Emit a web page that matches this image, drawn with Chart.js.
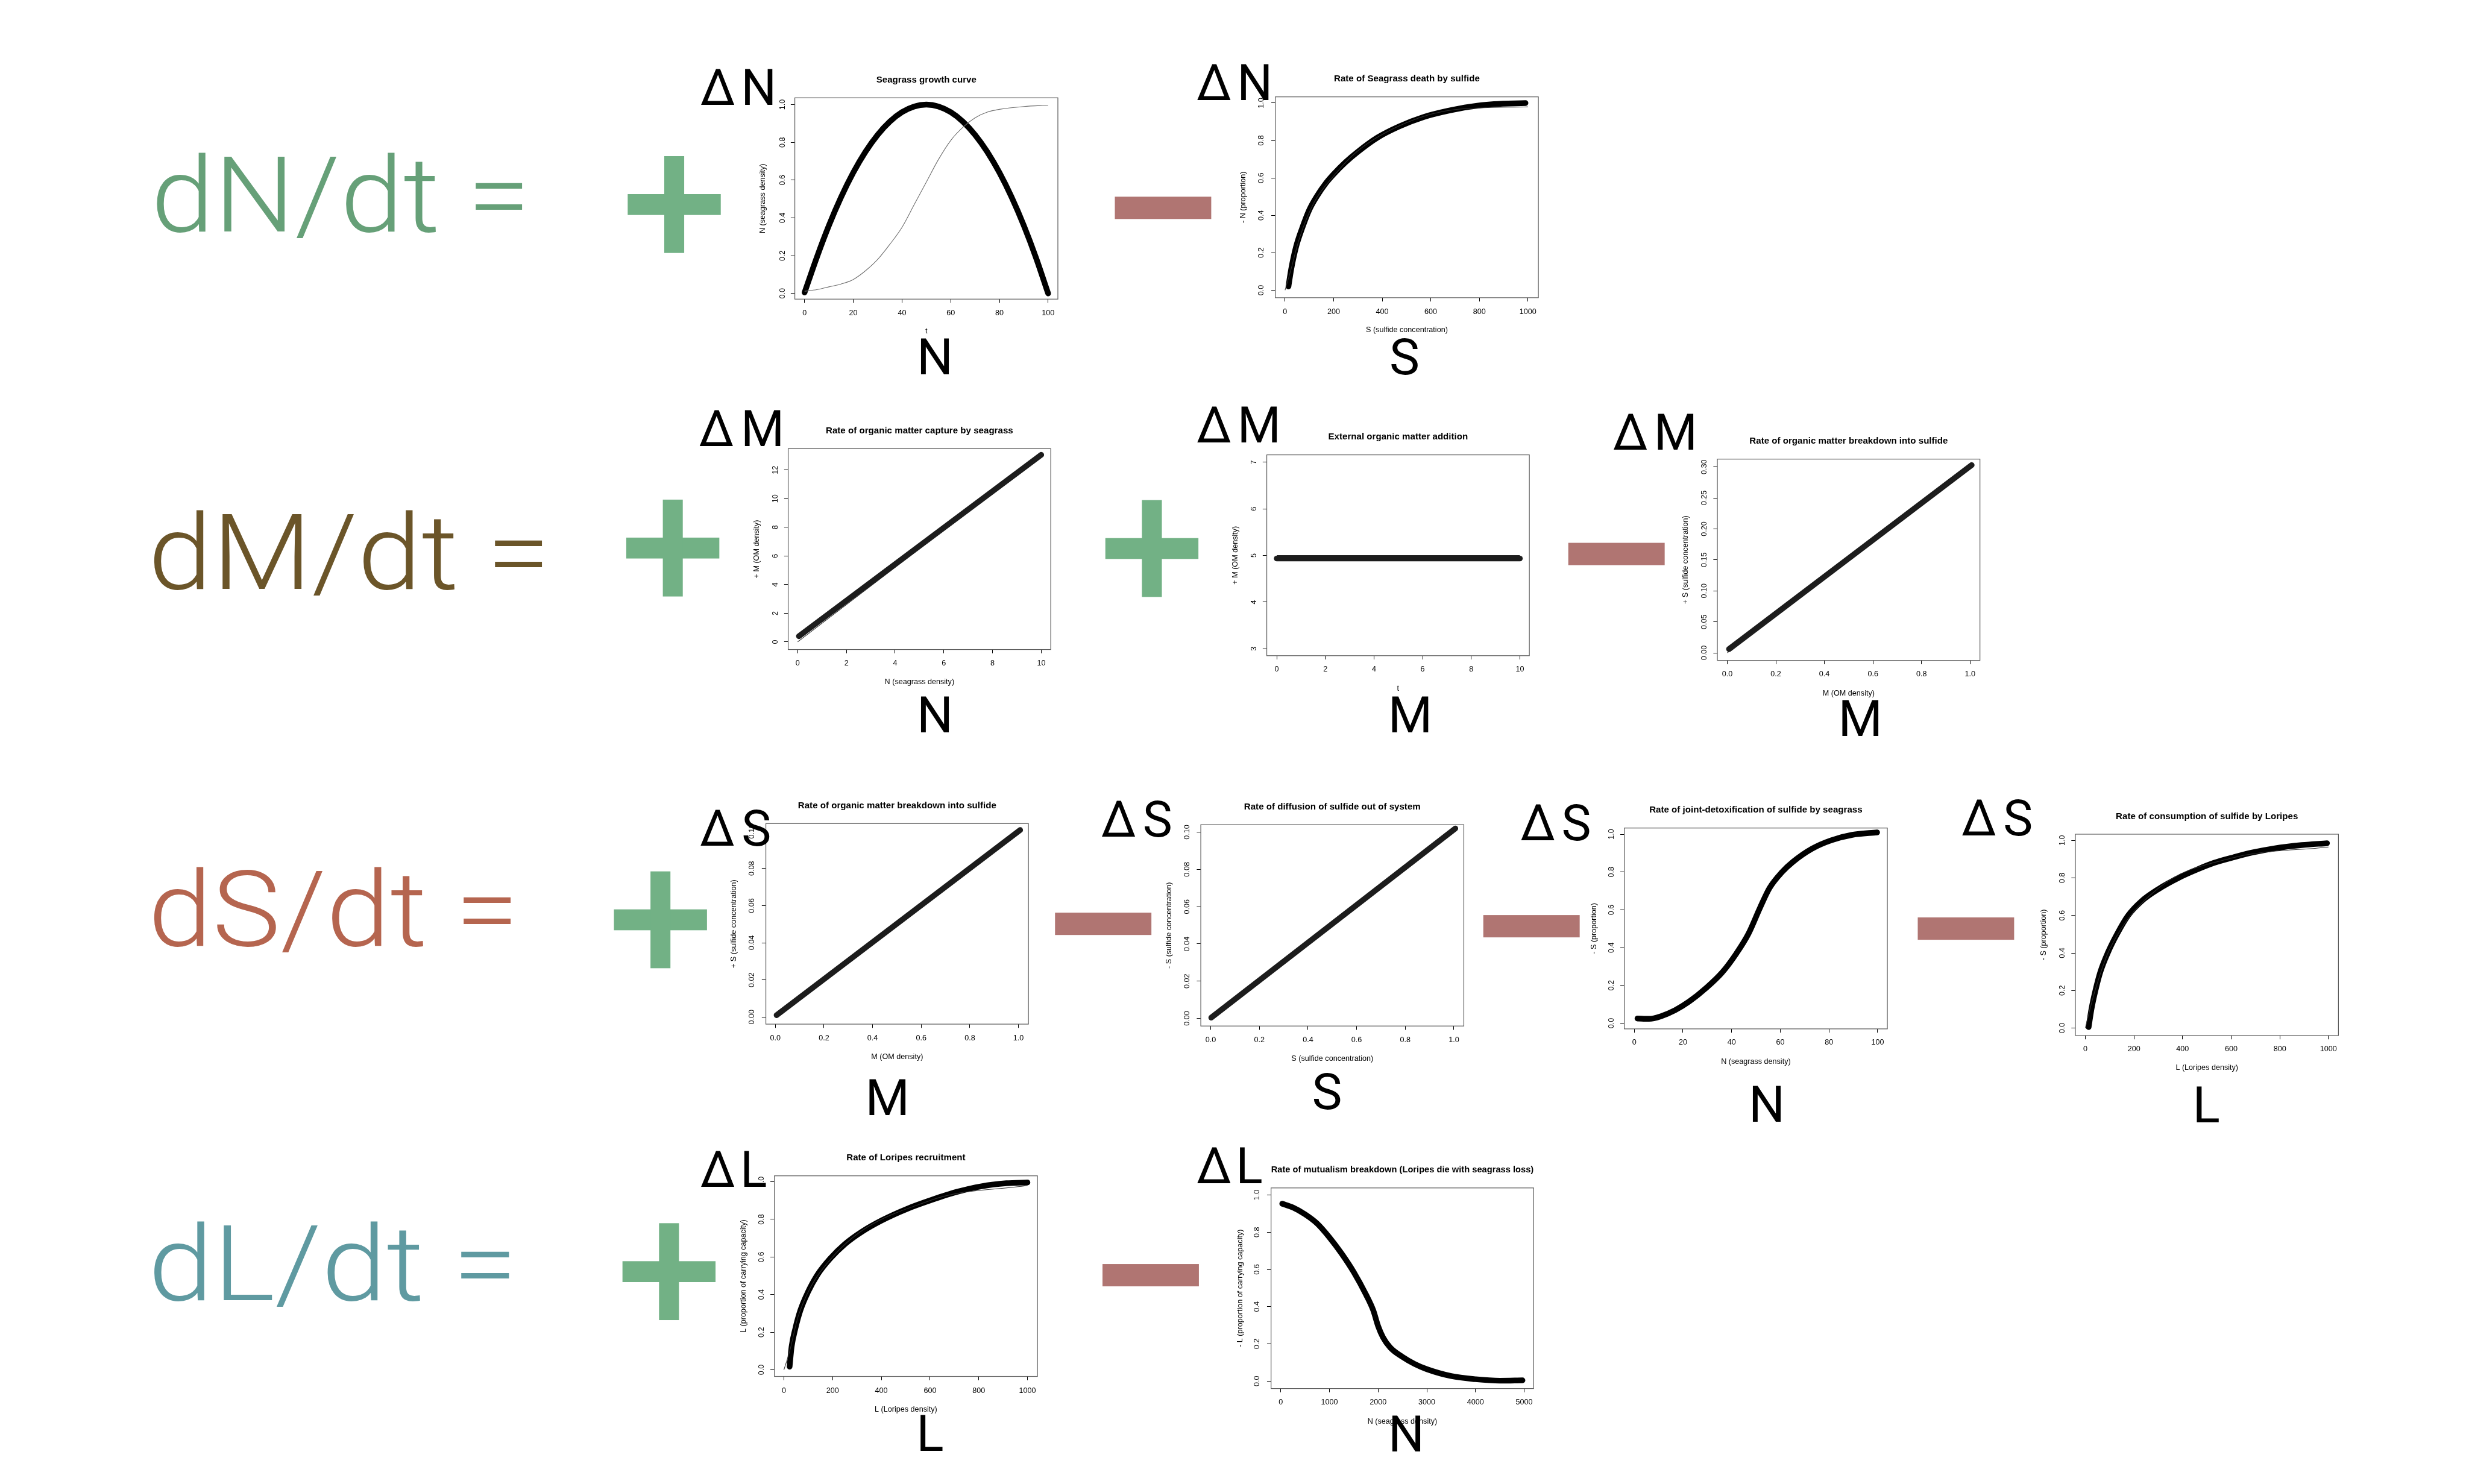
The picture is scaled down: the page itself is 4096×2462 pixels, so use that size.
<!DOCTYPE html>
<html>
<head>
<meta charset="utf-8">
<script src="https://cdn.jsdelivr.net/npm/chart.js@4.4.1/dist/chart.umd.min.js"></script>
<style>
html,body{margin:0;padding:0;background:#fff;}
#stage{position:relative;width:4096px;height:2462px;overflow:hidden;background:#fff;}
.panel{position:absolute;}
</style>
</head>
<body>
<div id="stage"></div>
<script>
// ---------------- DATA ----------------
// Panel 1: Seagrass growth curve
const p1X    = [0,5,10,15,20,25,30,35,40,45,50,55,60,65,70,75,80,85,90,95,100];
const p1Y    = [0.005,0.19,0.36,0.51,0.64,0.75,0.84,0.91,0.96,0.99,1.0,0.99,0.96,0.91,0.84,0.75,0.64,0.51,0.36,0.19,0.0];
const p1FitX = [0,5,10,15,20,25,30,35,40,45,50,55,60,65,70,75,80,90,100];
const p1FitY = [0.012,0.02,0.035,0.05,0.074,0.12,0.18,0.26,0.35,0.47,0.59,0.71,0.81,0.88,0.93,0.96,0.975,0.99,0.997];
// Panel 2: Rate of Seagrass death by sulfide
const p2X    = [14,25,45,70,100,130,170,200,250,300,380,470,570,670,760,860,990];
const p2Y    = [0.02,0.11,0.23,0.33,0.43,0.50,0.575,0.62,0.685,0.74,0.815,0.875,0.925,0.958,0.98,0.994,1.0];
const p2FitX = [0,20,60,120,200,300,500,700,1000];
const p2FitY = [0,0.09,0.28,0.47,0.61,0.745,0.895,0.965,0.98];
// Panel 3: Rate of organic matter capture by seagrass
const p3X = [0.05,10.0];   const p3Y = [0.4,13.06];
const p3FitX = [0,10];     const p3FitY = [0,13.0];
// Panel 4: External organic matter addition
const p4X = [0,10];        const p4Y = [4.935,4.935];
const p4FitX = [0,10];     const p4FitY = [5.0,5.0];
// Panel 5: Rate of organic matter breakdown into sulfide (M row)
const p5X = [0.007,1.007]; const p5Y = [0.006,0.303];
const p5FitX = [0,1];      const p5FitY = [0,0.3];
// Panel 6: Rate of organic matter breakdown into sulfide (S row)
const p6X = [0.005,1.007]; const p6Y = [0.001,0.1007];
// Panel 7: Rate of diffusion of sulfide out of system
const p7X = [0.002,1.006]; const p7Y = [0.0004,0.102];
// Panel 8: Rate of joint-detoxification of sulfide by seagrass
const p8X = [1.3,6.1,11,16.8,22.6,29.4,36.2,42,46.9,51.7,55.6,60.5,65.3,73.1,80.9,89.6,99.8];
const p8Y = [0.025,0.023,0.037,0.069,0.115,0.185,0.27,0.37,0.473,0.612,0.716,0.797,0.855,0.924,0.968,0.997,1.01];
// Panel 9: Rate of consumption of sulfide by Loripes
const p9X = [13.5,25,41.5,62,92,130,176,230,300,383,460,529,610,686,780,890,994];
const p9Y = [0.005,0.1,0.2,0.3,0.4,0.5,0.6,0.675,0.74,0.8,0.845,0.88,0.91,0.935,0.958,0.975,0.985];
const p9FitX = [0,13,40,100,300,600,1000];
const p9FitY = [0,0.07,0.2,0.42,0.745,0.905,0.965];
// Panel 10: Rate of Loripes recruitment
const p10X = [23.4,31.6,46.9,67.3,97.9,138.6,189.6,250.8,322,403.7,505.6,607.5,709.5,811.4,913.4,1000];
const p10Y = [0.017,0.123,0.219,0.315,0.411,0.507,0.591,0.669,0.736,0.796,0.856,0.904,0.946,0.976,0.992,0.996];
const p10FitX = [0,24,60,200,600,1000];
const p10FitY = [0,0.1,0.29,0.6,0.9,0.98];
// Panel 11: Rate of mutualism breakdown
const p11X = [29,250,500,750,1000,1250,1500,1750,1900,2000,2100,2250,2500,2750,3000,3500,4000,4500,4966];
const p11Y = [0.953,0.933,0.896,0.846,0.772,0.685,0.585,0.465,0.38,0.295,0.235,0.18,0.13,0.092,0.064,0.027,0.01,0.002,0.004];

// Tick values and labels
const tkProp = [0,0.2,0.4,0.6,0.8,1.0];
const tkPropLab = ['0.0','0.2','0.4','0.6','0.8','1.0'];
const tk100 = [0,20,40,60,80,100];
const tk100Lab = ['0','20','40','60','80','100'];
const tk1000 = [0,200,400,600,800,1000];
const tk1000Lab = ['0','200','400','600','800','1000'];
const tk5000 = [0,1000,2000,3000,4000,5000];
const tk5000Lab = ['0','1000','2000','3000','4000','5000'];
const tk10 = [0,2,4,6,8,10];
const tk10Lab = ['0','2','4','6','8','10'];
const tk12 = [0,2,4,6,8,10,12];
const tk12Lab = ['0','2','4','6','8','10','12'];
const tk37 = [3,4,5,6,7];
const tk37Lab = ['3','4','5','6','7'];
const tk030 = [0,0.05,0.10,0.15,0.20,0.25,0.30];
const tk030Lab = ['0.00','0.05','0.10','0.15','0.20','0.25','0.30'];
const tk010 = [0,0.02,0.04,0.06,0.08,0.10];
const tk010Lab = ['0.00','0.02','0.04','0.06','0.08','0.10'];

// ---------------- LAYOUT ----------------
const S = 4096/5200;
const stage = document.getElementById('stage');
Chart.defaults.font.family = "'Liberation Sans', Arial, Helvetica, sans-serif";
Chart.defaults.color = '#000';

const pts = (xs, ys) => xs.map((x, i) => ({x: x, y: ys[i]}));
const thick = (xs, ys, col) => ({data: pts(xs, ys), showLine: true, borderColor: col || '#000',
  borderWidth: 12*S, pointRadius: 0, cubicInterpolationMode: 'monotone', borderCapStyle: 'round',
  borderJoinStyle: 'round', fill: false, clip: false});
const thin = (xs, ys, col, w) => ({data: pts(xs, ys), showLine: true, borderColor: col,
  borderWidth: (w || 1.3)*S, pointRadius: 0, cubicInterpolationMode: 'monotone', fill: false, clip: false});

const rAxes = {
  id: 'rAxes',
  beforeDatasetsDraw(chart, args, o) {
    const a = chart.chartArea, ctx = chart.ctx;
    ctx.save();
    ctx.strokeStyle = '#5a5a5a'; ctx.lineWidth = 1.2;
    ctx.strokeRect(a.left, a.top, a.right - a.left, a.bottom - a.top);
    ctx.restore();
  },
  afterDraw(chart, args, o) {
    const ctx = chart.ctx, y = chart.scales.y;
    ctx.save();
    ctx.fillStyle = '#000';
    ctx.font = o.font + "px 'Liberation Sans', Arial, sans-serif";
    ctx.textAlign = 'center'; ctx.textBaseline = 'middle';
    o.yTicks.forEach((v, i) => {
      const py = y.getPixelForValue(v);
      ctx.save(); ctx.translate(o.labelX, py); ctx.rotate(-Math.PI/2);
      ctx.fillText(o.yLabels[i], 0, 0); ctx.restore();
    });
    ctx.restore();
  }
};

function makePanel(p) {
  const F = 16*S, FT = 19.2*S, TLx = 8*S, TLy = 8.5*S;
  const [L, T, R, B] = p.box;
  const cl = p.ylabX - 16, cr = R + 16, ct = p.titleY - 18, cb = p.xlabY + 14;
  const Lp = Math.round(cl*S), Tp = Math.round(ct*S);
  const Wp = Math.round(cr*S) - Lp, Hp = Math.round(cb*S) - Tp;
  const aL = L*S - Lp, aT = T*S - Tp, aR = R*S - Lp, aB = B*S - Tp;
  const div = document.createElement('div');
  div.className = 'panel';
  div.style.left = Lp + 'px'; div.style.top = Tp + 'px';
  div.style.width = Wp + 'px'; div.style.height = Hp + 'px';
  const cv = document.createElement('canvas');
  cv.width = Wp; cv.height = Hp; cv.style.width = Wp + 'px'; cv.style.height = Hp + 'px';
  div.appendChild(cv); stage.appendChild(div);
  const tY = p.titleY*S - Tp;
  new Chart(cv, {
    type: 'scatter',
    data: {datasets: p.datasets},
    options: {
      responsive: false, animation: false, events: [],
      layout: {padding: {left: 0, top: 0, bottom: 0, right: Wp - aR}},
      plugins: {
        legend: {display: false}, tooltip: {enabled: false},
        title: {display: true, text: p.title, fullSize: false, color: '#000',
          font: {size: FT, weight: 'bold', lineHeight: 1.2},
          padding: {top: tY - 0.6*FT, bottom: aT - tY - 0.6*FT}},
        rAxes: {yTicks: p.yTicks, yLabels: p.yTickLabels, labelX: p.yTickX*S - Lp, font: F}
      },
      scales: {
        x: {type: 'linear', position: 'bottom', min: p.xlim[0], max: p.xlim[1],
          afterBuildTicks: sc => { sc.ticks = p.xTicks.map(v => ({value: v})); },
          afterFit: sc => { sc.height = Hp - aB; sc.paddingLeft = 0; sc.paddingRight = 0; },
          ticks: {autoSkip: false, maxRotation: 0, minRotation: 0, color: '#000',
            padding: (p.xTickY*S - Tp - aB) - TLx - 0.6*F, font: {size: F, lineHeight: 1.2},
            callback: (v, i) => p.xTickLabels[i]},
          grid: {display: true, drawOnChartArea: false, drawTicks: true, tickLength: TLx, color: '#000', lineWidth: 1},
          border: {display: false},
          title: {display: true, text: p.xlab, color: '#000', font: {size: F, lineHeight: 1.2},
            padding: {top: 0, bottom: Hp - (p.xlabY*S - Tp) - 0.6*F}}},
        y: {type: 'linear', position: 'left', min: p.ylim[0], max: p.ylim[1],
          afterBuildTicks: sc => { sc.ticks = p.yTicks.map(v => ({value: v})); },
          afterFit: sc => { sc.width = aL; sc.paddingTop = 0; sc.paddingBottom = 0; },
          ticks: {display: false, callback: (v, i) => p.yTickLabels[i]},
          grid: {display: true, drawOnChartArea: false, drawTicks: true, tickLength: TLy, color: '#000', lineWidth: 1},
          border: {display: false},
          title: {display: true, text: p.ylab, color: '#000', font: {size: F, lineHeight: 1.2},
            padding: {top: p.ylabX*S - Lp - 0.6*F, bottom: 0}}}
      }
    },
    plugins: [rAxes]
  });
}

const DG = '#1c1c1c';
const panels = [
  {box: [1674,206,2228,630], xlim: [-4,104], ylim: [-0.03,1.036], xTickY: 659, xlabY: 698, yTickX: 1648, ylabX: 1607, titleY: 169,
   title: 'Seagrass growth curve', xlab: 't', ylab: 'N (seagrass density)',
   xTicks: tk100, xTickLabels: tk100Lab, yTicks: tkProp, yTickLabels: tkPropLab,
   datasets: [thin(p1FitX, p1FitY, '#6f6f6f', 1.4), thick(p1X, p1Y)]},
  {box: [2686,204,3240,627], xlim: [-40,1043], ylim: [-0.04,1.033], xTickY: 657, xlabY: 695, yTickX: 2657, ylabX: 2619, titleY: 166,
   title: 'Rate of Seagrass death by sulfide', xlab: 'S (sulfide concentration)', ylab: '- N (proportion)',
   xTicks: tk1000, xTickLabels: tk1000Lab, yTicks: tkProp, yTickLabels: tkPropLab,
   datasets: [thin(p2FitX, p2FitY, '#333'), thick(p2X, p2Y)]},
  {box: [1660,945,2213,1368], xlim: [-0.39,10.39], ylim: [-0.53,13.49], xTickY: 1397, xlabY: 1436, yTickX: 1633, ylabX: 1594, titleY: 907,
   title: 'Rate of organic matter capture by seagrass', xlab: 'N (seagrass density)', ylab: '+ M (OM density)',
   xTicks: tk10, xTickLabels: tk10Lab, yTicks: tk12, yTickLabels: tk12Lab,
   datasets: [thin(p3FitX, p3FitY, '#222'), thick(p3X, p3Y, DG)]},
  {box: [2668,958,3221,1381], xlim: [-0.41,10.39], ylim: [2.85,7.16], xTickY: 1410, xlabY: 1450, yTickX: 2641, ylabX: 2602, titleY: 920,
   title: 'External organic matter addition', xlab: 't', ylab: '+ M (OM density)',
   xTicks: tk10, xTickLabels: tk10Lab, yTicks: tk37, yTickLabels: tk37Lab,
   datasets: [thin(p4FitX, p4FitY, '#222'), thick(p4X, p4Y, DG)]},
  {box: [3617,967,4170,1391], xlim: [-0.041,1.041], ylim: [-0.0123,0.3126], xTickY: 1420, xlabY: 1460, yTickX: 3589, ylabX: 3550, titleY: 929.5,
   title: 'Rate of organic matter breakdown into sulfide', xlab: 'M (OM density)', ylab: '+ S (sulfide concentration)',
   xTicks: tkProp, xTickLabels: tkPropLab, yTicks: tk030, yTickLabels: tk030Lab,
   datasets: [thin(p5FitX, p5FitY, '#222'), thick(p5X, p5Y, DG)]},
  {box: [1613,1734.5,2166,2157], xlim: [-0.039,1.041], ylim: [-0.0038,0.1042], xTickY: 2187, xlabY: 2226, yTickX: 1584, ylabX: 1546, titleY: 1697,
   title: 'Rate of organic matter breakdown into sulfide', xlab: 'M (OM density)', ylab: '+ S (sulfide concentration)',
   xTicks: tkProp, xTickLabels: tkPropLab, yTicks: tk010, yTickLabels: tk010Lab,
   datasets: [thick(p6X, p6Y, DG)]},
  {box: [2529,1737,3083,2161], xlim: [-0.041,1.041], ylim: [-0.0041,0.104], xTickY: 2190, xlabY: 2230, yTickX: 2500, ylabX: 2462, titleY: 1700,
   title: 'Rate of diffusion of sulfide out of system', xlab: 'S (sulfide concentration)', ylab: '- S (sulfide concentration)',
   xTicks: tkProp, xTickLabels: tkPropLab, yTicks: tk010, yTickLabels: tk010Lab,
   datasets: [thick(p7X, p7Y, DG)]},
  {box: [3421,1744,3975,2167], xlim: [-4.1,104], ylim: [-0.03,1.033], xTickY: 2196, xlabY: 2236, yTickX: 3394, ylabX: 3357, titleY: 1706,
   title: 'Rate of joint-detoxification of sulfide by seagrass', xlab: 'N (seagrass density)', ylab: '- S (proportion)',
   xTicks: tk100, xTickLabels: tk100Lab, yTicks: tkProp, yTickLabels: tkPropLab,
   datasets: [thick(p8X, p8Y)]},
  {box: [4371,1757,4925,2181], xlim: [-41,1041], ylim: [-0.04,1.033], xTickY: 2210, xlabY: 2249, yTickX: 4344, ylabX: 4304, titleY: 1720,
   title: 'Rate of consumption of sulfide by Loripes', xlab: 'L (Loripes density)', ylab: '- S (proportion)',
   xTicks: tk1000, xTickLabels: tk1000Lab, yTicks: tkProp, yTickLabels: tkPropLab,
   datasets: [thin(p9FitX, p9FitY, '#333'), thick(p9X, p9Y)]},
  {box: [1631,2476.5,2185,2899], xlim: [-39,1041], ylim: [-0.035,1.0316], xTickY: 2930, xlabY: 2969, yTickX: 1604, ylabX: 1566, titleY: 2438,
   title: 'Rate of Loripes recruitment', xlab: 'L (Loripes density)', ylab: 'L (proportion of carrying capacity)',
   xTicks: tk1000, xTickLabels: tk1000Lab, yTicks: tkProp, yTickLabels: tkPropLab,
   datasets: [thin(p10FitX, p10FitY, '#333'), thick(p10X, p10Y)]},
  {box: [2677,2502,3230,2924.5], xlim: [-200,5195], ylim: [-0.04,1.038], xTickY: 2954, xlabY: 2994, yTickX: 2648, ylabX: 2612, titleY: 2464,
   title: 'Rate of mutualism breakdown (Loripes die with seagrass loss)', xlab: 'N (seagrass density)', ylab: '- L (proportion of carrying capacity)',
   xTicks: tk5000, xTickLabels: tk5000Lab, yTicks: tkProp, yTickLabels: tkPropLab,
   datasets: [thick(p11X, p11Y)]}
];
panels.forEach(makePanel);

// ---------------- DECORATION (equation text, plus / minus signs) ----------------
const NS = 'http://www.w3.org/2000/svg';
const svg = document.createElementNS(NS, 'svg');
svg.setAttribute('viewBox', '0 0 5200 3125');
svg.setAttribute('width', '4096'); svg.setAttribute('height', '2462');
svg.style.cssText = 'position:absolute;left:0;top:0;pointer-events:none;';
stage.appendChild(svg);
const FAM = "Roboto, 'Open Sans', Lato, 'Liberation Sans', sans-serif";
function txt(str, x, y, size, color, anchor, weight, len) {
  const t = document.createElementNS(NS, 'text');
  t.setAttribute('x', x); t.setAttribute('y', y);
  t.setAttribute('font-size', size); t.setAttribute('fill', color);
  t.setAttribute('font-family', FAM); t.setAttribute('font-weight', weight || '400');
  t.setAttribute('text-anchor', anchor || 'middle');
  if (len) { t.setAttribute('textLength', len); t.setAttribute('lengthAdjust', 'spacingAndGlyphs'); }
  t.textContent = str; svg.appendChild(t);
}
function box(x, y, w, h, color) {
  const r = document.createElementNS(NS, 'rect');
  r.setAttribute('x', x); r.setAttribute('y', y); r.setAttribute('width', w); r.setAttribute('height', h);
  r.setAttribute('fill', color); svg.appendChild(r);
}
const PLUS = '#72b185', MINUS = '#b07572';
function plus(cx, cy) { box(cx - 98, cy - 22, 196, 44, PLUS); box(cx - 21, cy - 102, 42, 204, PLUS); }
function minus(x, y) { box(x, y, 203, 47, MINUS); }

// row labels
txt('dN/dt =', 318, 487, 222, '#66a078', 'start', '300', 799);
txt('dM/dt =', 312, 1240, 222, '#6b5529', 'start', '300', 847);
txt('dS/dt =', 312, 1992, 222, '#b5654f', 'start', '300', 781);
txt('dL/dt =', 312, 2738, 222, '#5f9aa1', 'start', '300', 778);

plus(1420, 430.5);
plus(1417, 1154); plus(2426, 1155);
plus(1391, 1937);
plus(1409, 2678);
minus(2348, 414);
minus(3303, 1143);
minus(2222, 1922); minus(3124, 1927); minus(4039, 1932);
minus(2322, 2662);

const DS = 105, LS = 107, K = '#000';
// Delta labels
txt('\u0394', 1512, 220, DS, K); txt('N', 1598, 220, DS, K);
txt('\u0394', 2557, 211, DS, K); txt('N', 2643, 211, DS, K);
txt('\u0394', 1509, 939, DS, K); txt('M', 1606, 939, DS, K);
txt('\u0394', 2557, 932, DS, K); txt('M', 2652, 932, DS, K);
txt('\u0394', 3434, 947, DS, K); txt('M', 3529, 947, DS, K);
txt('\u0394', 1511, 1781, DS, K); txt('S', 1593, 1781, DS, K);
txt('\u0394', 2356, 1762, DS, K); txt('S', 2438, 1762, DS, K);
txt('\u0394', 3239, 1769, DS, K); txt('S', 3320, 1769, DS, K);
txt('\u0394', 4168, 1759, DS, K); txt('S', 4250, 1759, DS, K);
txt('\u0394', 1512, 2500, DS, K); txt('L', 1559, 2500, DS, K, 'start');
txt('\u0394', 2557, 2492, DS, K); txt('L', 2603, 2492, DS, K, 'start');
// variable letters under panels
txt('N', 1969, 788, LS, K);
txt('S', 2958, 788, LS, K);
txt('N', 1969, 1542, LS, K);
txt('M', 2970, 1542, LS, K);
txt('M', 3918, 1550, LS, K);
txt('M', 1869, 2348, LS, K);
txt('S', 2795, 2336, LS, K);
txt('N', 3721, 2362, LS, K);
txt('L', 4618, 2364, LS, K, 'start');
txt('L', 1930, 3056, LS, K, 'start');
txt('N', 2962, 3057, LS, K);
</script>
</body>
</html>
